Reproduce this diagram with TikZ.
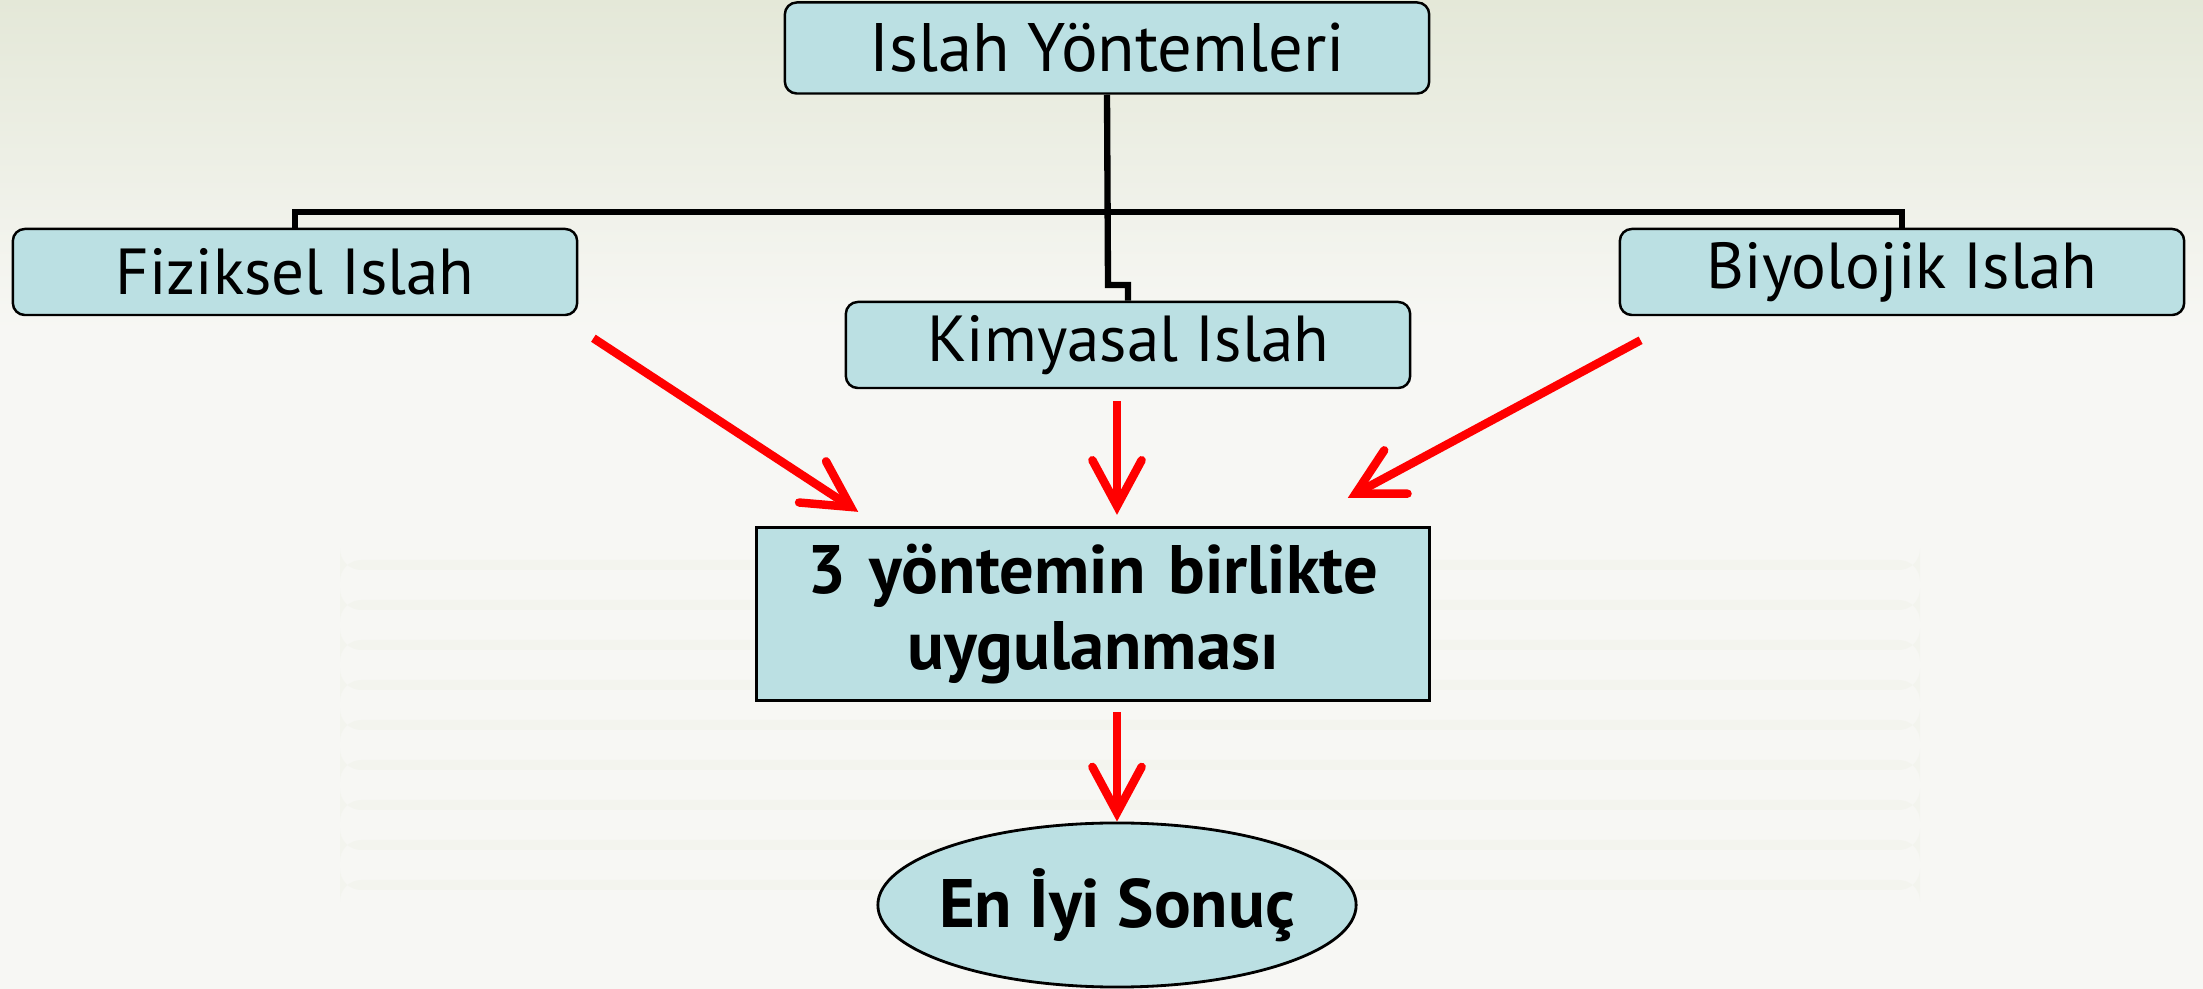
\documentclass[tikz,border=0pt]{standalone}
\usepackage{fontspec}
\setmainfont{PT Sans}
\usetikzlibrary{arrows.meta,shapes.geometric}

\definecolor{boxfill}{HTML}{BBE0E3}
\definecolor{arrowred}{HTML}{FF0000}
\definecolor{paper}{HTML}{F7F7F4}
\definecolor{paperdark}{HTML}{E4E8D8}

\tikzset{
  method/.style={draw, line width=0.7pt, fill=boxfill, rounded corners=3.4pt,
    minimum width=5.64cm, minimum height=0.86cm, inner sep=0pt,
    font=\fontsize{18.5}{22}\selectfont},
  link/.style={line width=1.8pt, line join=miter},
  flow/.style={draw=arrowred, line width=2.4pt,
    -{Straight Barb[length=13pt, width=14pt, line cap=round]}},
}

\begin{document}
\begin{tikzpicture}[x=0.01cm, y=-0.01cm]
  \useasboundingbox (0,0) rectangle (2203,989);
  % background
  \fill[paper] (0,0) rectangle (2203,989);
  \shade[top color=paperdark, bottom color=paper] (0,0) rectangle (2203,330);
  \foreach \y in {560,600,640,680,720,760,800,840,880}
    \fill[paperdark, opacity=0.2, rounded corners=6pt] (340,\y) rectangle (1920,\y+10);

  \node[method, minimum width=6.44cm, minimum height=0.91cm,
    font=\fontsize{19.5}{23}\selectfont] (root) at (1107,48) {Islah Yöntemleri};
  \node[method] (fiz) at (295,272) {Fiziksel Islah};
  \node[method] (kim) at (1128,345) {Kimyasal Islah};
  \node[method] (bio) at (1902,272) {Biyolojik Islah};
  \node[draw, line width=0.9pt, fill=boxfill, minimum width=6.72cm, minimum height=1.73cm,
    text width=6.5cm, align=center, inner sep=0pt,
    font=\bfseries\fontsize{19.5}{21.5}\selectfont] (mix) at (1093,614)
    {3 yöntemin birlikte\\uygulanması};
  \node[ellipse, draw, line width=0.8pt, fill=boxfill, minimum width=4.78cm, minimum height=1.64cm,
    inner xsep=-0.1cm, inner ysep=0pt, font=\bfseries\fontsize{19.5}{23}\selectfont] (best) at (1117,905) {En İyi Sonuç};

  % tree lines
  \coordinate (bar) at (1108,212);
  \draw[link] (fiz.north) -- (fiz.north |- bar) -- (bio.north |- bar) -- (bio.north);
  \draw[link] (root.south) -- (1108,285) -| (kim.north);

  % red arrows
  \coordinate (fizout) at ([shift={(15,22)}]fiz.south east);
  \coordinate (fizin) at ([shift={(103,-14)}]mix.north west);
  \coordinate (kimout) at ([shift={(-11,12)}]kim.south);
  \coordinate (kimin) at ([shift={(24,-11)}]mix.north);
  \coordinate (bioout) at ([shift={(22,24)}]bio.south west);
  \coordinate (bioin) at ([shift={(-83,-28)}]mix.north east);
  \coordinate (mixout) at ([shift={(24,10)}]mix.south);
  \draw[flow] (fizout) -- (fizin);
  \draw[flow] (kimout) -- (kimin);
  \draw[flow] (bioout) -- (bioin);
  \draw[flow] (mixout) -- (best.north);
\end{tikzpicture}
\end{document}
